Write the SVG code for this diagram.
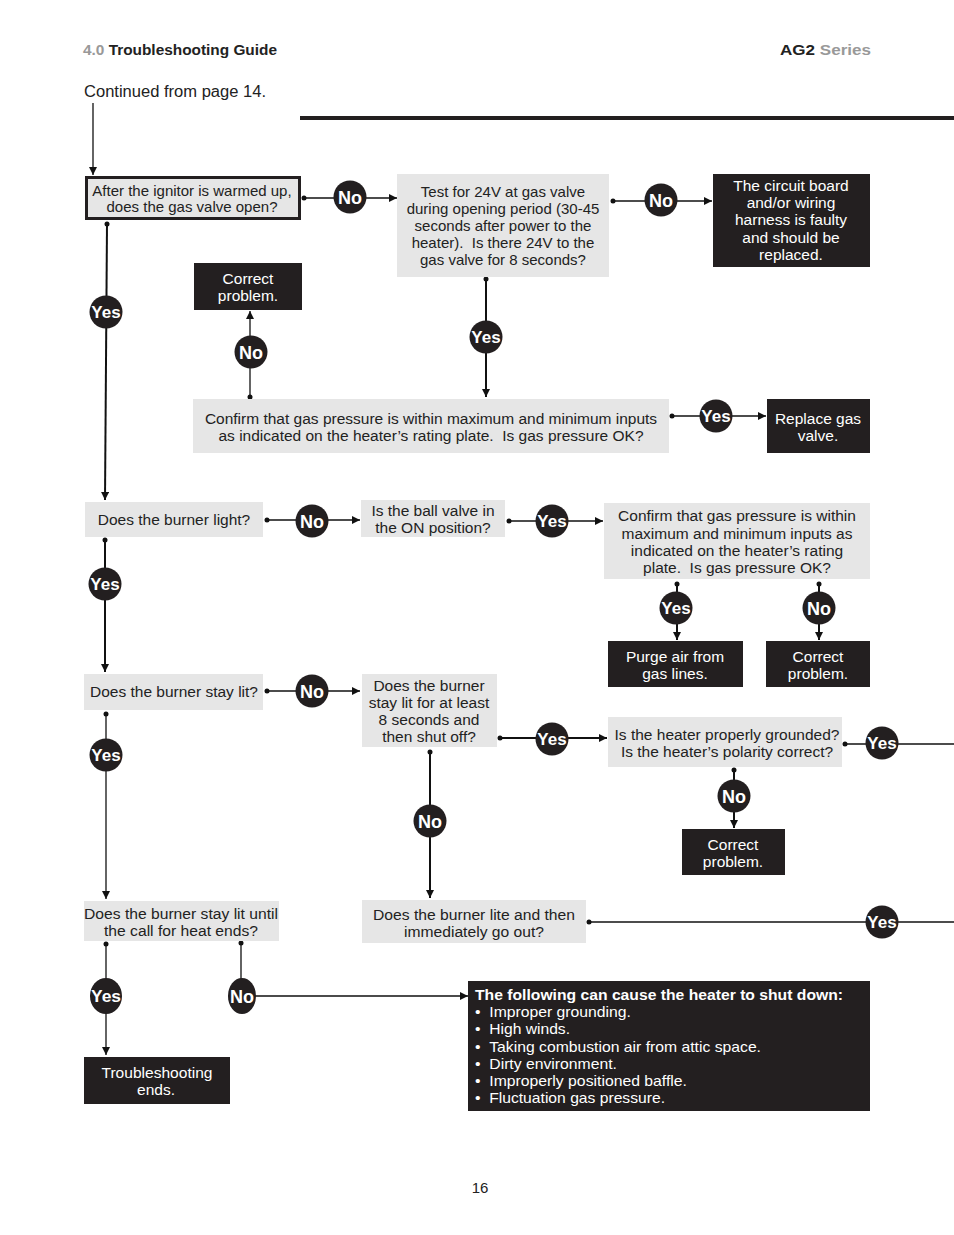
<svg xmlns="http://www.w3.org/2000/svg" width="954" height="1235" viewBox="0 0 954 1235">
<style>
text{font-family:"Liberation Sans",Arial,sans-serif;}
.t{font-size:15.5px;fill:#222;text-anchor:middle;}
.w{font-size:15.5px;fill:#fff;text-anchor:middle;}
.s15{font-size:15px;}
.gb{fill:#e6e6e6;}
.bb{fill:#231f20;}
.ln{stroke:#111;stroke-width:1.3;fill:none;}
.lk{stroke:#111;stroke-width:2;fill:none;}
.dot{fill:#111;}
.c{fill:#231f20;}
.cl{font-size:18px;font-weight:bold;fill:#fff;text-anchor:middle;}
.cy{font-size:17px;font-weight:bold;fill:#fff;text-anchor:middle;}
.bl{font-size:15px;fill:#fff;}
</style>
<defs>
<marker id="ah" viewBox="0 0 10 10" refX="10" refY="5" markerWidth="9" markerHeight="8" markerUnits="userSpaceOnUse" orient="auto">
<path d="M0,0 L10,5 L0,10 z" fill="#111"/>
</marker>
</defs>
<rect width="954" height="1235" fill="#fff"/>
<!-- header -->
<text x="83" y="55" font-size="14" font-weight="bold" textLength="194" lengthAdjust="spacingAndGlyphs"><tspan fill="#999">4.0 </tspan><tspan fill="#222">Troubleshooting Guide</tspan></text>
<text x="780" y="55" font-size="15" font-weight="bold" textLength="91" lengthAdjust="spacingAndGlyphs"><tspan fill="#222">AG2 </tspan><tspan fill="#999">Series</tspan></text>
<text x="84" y="97" font-size="16" fill="#222" textLength="182" lengthAdjust="spacingAndGlyphs">Continued from page 14.</text>
<rect x="300" y="116" width="654" height="4" fill="#231f20"/>
<text x="480" y="1193" font-size="15" fill="#222" text-anchor="middle">16</text>

<g id="connectors">
<path class="ln" d="M93,103 V175" marker-end="url(#ah)"/>
<path class="ln" d="M304,198 H397" marker-end="url(#ah)"/>
<path class="ln" d="M613,201 H712" marker-end="url(#ah)"/>
<path class="lk" d="M486,280 V397" marker-end="url(#ah)"/>
<path class="ln" d="M250,397 V311" marker-end="url(#ah)"/>
<path class="ln" d="M672,416 H766" marker-end="url(#ah)"/>
<path class="lk" d="M107,224 L105,500" marker-end="url(#ah)"/>
<path class="ln" d="M267,520 H360" marker-end="url(#ah)"/>
<path class="ln" d="M509,521 H603" marker-end="url(#ah)"/>
<path class="lk" d="M677,584 V640" marker-end="url(#ah)"/>
<path class="lk" d="M819,584 V640" marker-end="url(#ah)"/>
<path class="lk" d="M105,540 V672" marker-end="url(#ah)"/>
<path class="ln" d="M267,691 H360" marker-end="url(#ah)"/>
<path class="lk" d="M500,738 H607" marker-end="url(#ah)"/>
<path class="ln" d="M845,744 H954"/>
<path class="lk" d="M734,770 V828" marker-end="url(#ah)"/>
<path class="lk" d="M430,752 V898" marker-end="url(#ah)"/>
<path class="ln" d="M589,922 H954"/>
<path class="ln" d="M106,714 V899" marker-end="url(#ah)"/>
<path class="ln" d="M106,944 V1055" marker-end="url(#ah)"/>
<path class="ln" d="M241,943 V996 H468" marker-end="url(#ah)"/>
<g class="dot">
<circle cx="304" cy="198" r="2.5"/><circle cx="613" cy="201" r="2.5"/><circle cx="486" cy="279" r="2.5"/>
<circle cx="250" cy="397" r="2.5"/><circle cx="672" cy="416" r="2.5"/><circle cx="107" cy="224" r="2.5"/>
<circle cx="267" cy="520" r="2.5"/><circle cx="509" cy="521" r="2.5"/><circle cx="677" cy="584" r="2.5"/>
<circle cx="819" cy="584" r="2.5"/><circle cx="105" cy="540" r="2.5"/><circle cx="267" cy="691" r="2.5"/>
<circle cx="500" cy="738" r="2.5"/><circle cx="845" cy="744" r="2.5"/><circle cx="734" cy="770" r="2.5"/>
<circle cx="430" cy="752" r="2.5"/><circle cx="589" cy="922" r="2.5"/><circle cx="106" cy="714" r="2.5"/>
<circle cx="106" cy="944" r="2.5"/><circle cx="241" cy="943" r="2.5"/>
</g>
<!-- labels -->
<g id="lbl-no1"><circle class="c" cx="350" cy="197" r="16.5"/><text class="cl" x="350" y="204">No</text></g>
<g id="lbl-no2"><circle class="c" cx="661" cy="200" r="16.5"/><text class="cl" x="661" y="207">No</text></g>
<g id="lbl-yes1"><circle class="c" cx="486" cy="337" r="16.5"/><text class="cy" x="486" y="343">Yes</text></g>
<g id="lbl-no3"><circle class="c" cx="251" cy="352" r="16.5"/><text class="cl" x="251" y="359">No</text></g>
<g id="lbl-yes2"><circle class="c" cx="716" cy="416" r="16.5"/><text class="cy" x="716" y="422">Yes</text></g>
<g id="lbl-yes3"><circle class="c" cx="106" cy="312" r="16.5"/><text class="cy" x="106" y="318">Yes</text></g>
<g id="lbl-no4"><circle class="c" cx="312" cy="521" r="16.5"/><text class="cl" x="312" y="528">No</text></g>
<g id="lbl-yes4"><circle class="c" cx="552" cy="521" r="16.5"/><text class="cy" x="552" y="527">Yes</text></g>
<g id="lbl-yes5"><circle class="c" cx="676" cy="608" r="16.5"/><text class="cy" x="676" y="614">Yes</text></g>
<g id="lbl-no5"><circle class="c" cx="819" cy="608" r="16.5"/><text class="cl" x="819" y="615">No</text></g>
<g id="lbl-yes6"><circle class="c" cx="105" cy="584" r="16.5"/><text class="cy" x="105" y="590">Yes</text></g>
<g id="lbl-no6"><circle class="c" cx="312" cy="691" r="16.5"/><text class="cl" x="312" y="698">No</text></g>
<g id="lbl-yes7"><circle class="c" cx="552" cy="739" r="16.5"/><text class="cy" x="552" y="745">Yes</text></g>
<g id="lbl-yes8"><circle class="c" cx="882" cy="743" r="16.5"/><text class="cy" x="882" y="749">Yes</text></g>
<g id="lbl-no7"><circle class="c" cx="734" cy="796" r="16.5"/><text class="cl" x="734" y="803">No</text></g>
<g id="lbl-no8"><circle class="c" cx="430" cy="821" r="16.5"/><text class="cl" x="430" y="828">No</text></g>
<g id="lbl-yes9"><circle class="c" cx="882" cy="922" r="16.5"/><text class="cy" x="882" y="928">Yes</text></g>
<g id="lbl-yes10"><circle class="c" cx="106" cy="755" r="16.5"/><text class="cy" x="106" y="761">Yes</text></g>
<g id="lbl-yes11"><ellipse class="c" cx="106" cy="996" rx="16" ry="18"/><text class="cy" x="106" y="1002" textLength="30" lengthAdjust="spacingAndGlyphs">Yes</text></g>
<g id="lbl-no9"><ellipse class="c" cx="242" cy="996" rx="14" ry="18"/><text class="cl" x="242" y="1003" textLength="24" lengthAdjust="spacingAndGlyphs">No</text></g>
</g>

<g id="n1"><rect x="86.5" y="177.5" width="213" height="41" class="gb" stroke="#231f20" stroke-width="3"/>
<text class="t s15" x="192" y="196">After the ignitor is warmed up,</text><text class="t s15" x="192" y="212">does the gas valve open?</text></g>
<g id="n2"><rect x="397" y="174" width="212" height="103" class="gb"/>
<text class="t s15" x="503" y="197">Test for 24V at gas valve</text><text class="t s15" x="503" y="214">during opening period (30-45</text><text class="t s15" x="503" y="231">seconds after power to the</text><text class="t s15" x="503" y="248">heater).&#160; Is there 24V to the</text><text class="t s15" x="503" y="265">gas valve for 8 seconds?</text></g>
<g id="n3"><rect x="713" y="174" width="157" height="93" class="bb"/>
<text class="w" x="791" y="191">The circuit board</text><text class="w" x="791" y="208">and/or wiring</text><text class="w" x="791" y="225">harness is faulty</text><text class="w" x="791" y="243">and should be</text><text class="w" x="791" y="260">replaced.</text></g>
<g id="n4"><rect x="194" y="263" width="108" height="47" class="bb"/>
<text class="w" x="248" y="284">Correct</text><text class="w" x="248" y="301">problem.</text></g>
<g id="n5"><rect x="193" y="399" width="476" height="54" class="gb"/>
<text class="t" x="431" y="424">Confirm that gas pressure is within maximum and minimum inputs</text><text class="t" x="431" y="441">as indicated on the heater’s rating plate.&#160; Is gas pressure OK?</text></g>
<g id="n6"><rect x="767" y="399" width="103" height="54" class="bb"/>
<text class="w" x="818" y="424">Replace gas</text><text class="w" x="818" y="441">valve.</text></g>
<g id="n7"><rect x="85" y="502" width="178" height="35" class="gb"/>
<text class="t" x="174" y="525">Does the burner light?</text></g>
<g id="n8"><rect x="361" y="500" width="144" height="37" class="gb"/>
<text class="t" x="433" y="516">Is the ball valve in</text><text class="t" x="433" y="533">the ON position?</text></g>
<g id="n9"><rect x="604" y="503" width="266" height="76" class="gb"/>
<text class="t" x="737" y="521">Confirm that gas pressure is within</text><text class="t" x="737" y="539">maximum and minimum inputs as</text><text class="t" x="737" y="556">indicated on the heater’s rating</text><text class="t" x="737" y="573">plate.&#160; Is gas pressure OK?</text></g>
<g id="n10"><rect x="608" y="641" width="135" height="46" class="bb"/>
<text class="w" x="675" y="662">Purge air from</text><text class="w" x="675" y="679">gas lines.</text></g>
<g id="n11"><rect x="766" y="641" width="104" height="46" class="bb"/>
<text class="w" x="818" y="662">Correct</text><text class="w" x="818" y="679">problem.</text></g>
<g id="n12"><rect x="84" y="674" width="179" height="36" class="gb"/>
<text class="t" x="174" y="697">Does the burner stay lit?</text></g>
<g id="n13"><rect x="362" y="674" width="135" height="73" class="gb"/>
<text class="t" x="429" y="691">Does the burner</text><text class="t" x="429" y="708">stay lit for at least</text><text class="t" x="429" y="725">8 seconds and</text><text class="t" x="429" y="742">then shut off?</text></g>
<g id="n14"><rect x="608" y="717" width="234" height="50" class="gb"/>
<text class="t" x="727" y="740">Is the heater properly grounded?</text><text class="t" x="727" y="757">Is the heater’s polarity correct?</text></g>
<g id="n15"><rect x="682" y="829" width="103" height="46" class="bb"/>
<text class="w" x="733" y="850">Correct</text><text class="w" x="733" y="867">problem.</text></g>
<g id="n16"><rect x="362" y="900" width="224" height="43" class="gb"/>
<text class="t" x="474" y="920" textLength="202" lengthAdjust="spacingAndGlyphs">Does the burner lite and then</text><text class="t" x="474" y="937" textLength="140" lengthAdjust="spacingAndGlyphs">immediately go out?</text></g>
<g id="n17"><rect x="84" y="901" width="195" height="40" class="gb"/>
<text class="t" x="181" y="919" textLength="194" lengthAdjust="spacingAndGlyphs">Does the burner stay lit until</text><text class="t" x="181" y="936" textLength="154" lengthAdjust="spacingAndGlyphs">the call for heat ends?</text></g>
<g id="n18"><rect x="468" y="981" width="402" height="130" class="bb"/>
<text x="475" y="1000" font-size="15" font-weight="bold" fill="#fff" textLength="368" lengthAdjust="spacingAndGlyphs">The following can cause the heater to shut down:</text>
<text class="bl" x="475" y="1017" textLength="156" lengthAdjust="spacingAndGlyphs">•&#160;&#160;Improper grounding.</text>
<text class="bl" x="475" y="1034" textLength="95" lengthAdjust="spacingAndGlyphs">•&#160;&#160;High winds.</text>
<text class="bl" x="475" y="1052" textLength="286" lengthAdjust="spacingAndGlyphs">•&#160;&#160;Taking combustion air from attic space.</text>
<text class="bl" x="475" y="1069" textLength="142" lengthAdjust="spacingAndGlyphs">•&#160;&#160;Dirty environment.</text>
<text class="bl" x="475" y="1086" textLength="212" lengthAdjust="spacingAndGlyphs">•&#160;&#160;Improperly positioned baffle.</text>
<text class="bl" x="475" y="1103" textLength="190" lengthAdjust="spacingAndGlyphs">•&#160;&#160;Fluctuation gas pressure.</text></g>
<g id="n19"><rect x="84" y="1057" width="146" height="47" class="bb"/>
<text class="w" x="157" y="1078" textLength="111" lengthAdjust="spacingAndGlyphs">Troubleshooting</text><text class="w" x="156" y="1095" textLength="38" lengthAdjust="spacingAndGlyphs">ends.</text></g>
</svg>
